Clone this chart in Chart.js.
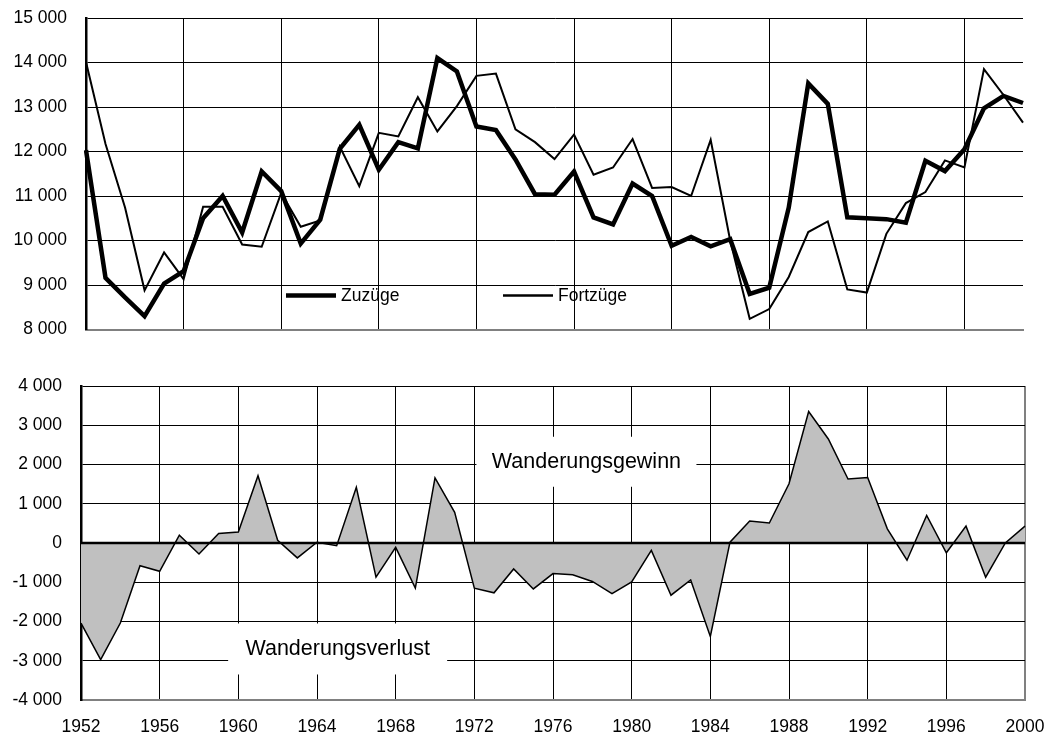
<!DOCTYPE html>
<html>
<head>
<meta charset="utf-8">
<script src="https://cdn.jsdelivr.net/npm/chart.js@4"></script>
<style>
html,body{margin:0;padding:0;background:#fff;width:1047px;height:737px;overflow:hidden}
canvas{position:absolute;left:0}
#top{top:0}
#bot{top:360px}
</style>
</head>
<body>
<canvas id="top" width="1047" height="340"></canvas>
<canvas id="bot" width="1047" height="377"></canvas>
<script>
const years = ['1952','1953','1954','1955','1956','1957','1958','1959','1960','1961','1962','1963','1964','1965','1966','1967','1968','1969','1970','1971','1972','1973','1974','1975','1976','1977','1978','1979','1980','1981','1982','1983','1984','1985','1986','1987','1988','1989','1990','1991','1992','1993','1994','1995','1996','1997','1998','1999','2000'];

const zuzuege = [12030,9160,8720,8300,9030,9310,10500,11000,10180,11550,11110,9930,10470,12060,12600,11590,12210,12070,14100,13800,12560,12480,11820,11040,11030,11550,10520,10360,11280,11000,9880,10080,9870,10030,8800,8940,10740,13530,13070,10520,10500,10480,10400,11790,11560,12050,12970,13250,13090];

const fortzuege = [14010,12170,10740,8880,9730,9130,10760,10760,9910,9860,11070,10310,10450,12110,11220,12420,12340,13220,12450,13020,13700,13750,12500,12210,11830,12380,11480,11640,12280,11180,11200,11000,12260,10000,8240,8460,9180,10190,10430,8900,8830,10150,10840,11090,11800,11640,13850,13270,12650];

const saldo = [-2040,-2970,-2040,-580,-720,200,-280,240,280,1715,70,-380,20,-70,1420,-870,-110,-1150,1660,780,-1150,-1270,-660,-1170,-780,-810,-980,-1290,-990,-190,-1330,-940,-2380,20,560,510,1510,3350,2650,1630,1670,360,-440,700,-250,430,-870,0,430];

const topYTicks = [8000,9000,10000,11000,12000,13000,14000,15000];
const botYTicks = [-4000,-3000,-2000,-1000,0,1000,2000,3000,4000];
const xTickLabels = ['1952','1956','1960','1964','1968','1972','1976','1980','1984','1988','1992','1996','2000'];

const seriesLabels = ['Zuzüge','Fortzüge'];
const noteGain = 'Wanderungsgewinn';
const noteLoss = 'Wanderungsverlust';

const FONT = "'Liberation Sans', Arial, sans-serif";
Chart.defaults.font.family = FONT;
Chart.defaults.font.size = 17.5;
Chart.defaults.color = '#000';

const fmt = v => (v < 0 ? '-' : '') + String(Math.abs(v)).replace(/\B(?=(\d{3})+(?!\d))/g, ' ');
const CLEAR = 'rgba(0,0,0,0)';

const innerLegend = {
  id: 'innerLegend',
  afterDraw(chart, args, opts) {
    const {ctx, chartArea: a} = chart;
    ctx.save();
    chart.data.datasets.forEach((ds, i) => {
      const x0 = a.left + opts.offsets[i];
      const y = a.bottom - opts.bottomGap;
      ctx.strokeStyle = ds.borderColor;
      ctx.lineWidth = opts.widths[i];
      ctx.lineCap = 'butt';
      ctx.beginPath();
      ctx.moveTo(x0, y);
      ctx.lineTo(x0 + opts.sample, y);
      ctx.stroke();
      ctx.fillStyle = '#000';
      ctx.font = '17.5px ' + FONT;
      ctx.textBaseline = 'middle';
      ctx.textAlign = 'left';
      ctx.fillText(ds.label, x0 + opts.sample + opts.gap, y + 1);
    });
    ctx.restore();
  }
};

const textBoxes = {
  id: 'textBoxes',
  beforeDatasetsDraw(chart, args, opts) {
    const {ctx} = chart;
    const xs = chart.scales.x, ys = chart.scales.y;
    ctx.save();
    opts.items.forEach(it => {
      const cx = xs.getPixelForValue(it.xIndex);
      const cy = ys.getPixelForValue(it.yValue);
      ctx.fillStyle = '#fff';
      ctx.fillRect(cx - it.w / 2, cy - it.h / 2, it.w, it.h);
      ctx.fillStyle = '#000';
      ctx.font = '21.5px ' + FONT;
      ctx.textAlign = 'center';
      ctx.textBaseline = 'middle';
      ctx.fillText(it.text, cx, cy);
    });
    ctx.restore();
  }
};

const zeroLine = {
  id: 'zeroLine',
  afterDatasetsDraw(chart) {
    const {ctx, chartArea: a} = chart;
    const y = chart.scales.y.getPixelForValue(0);
    ctx.save();
    ctx.strokeStyle = '#000';
    ctx.lineWidth = 2.5;
    ctx.beginPath();
    ctx.moveTo(a.left, y);
    ctx.lineTo(a.right, y);
    ctx.stroke();
    ctx.restore();
  }
};

new Chart(document.getElementById('top'), {
  type: 'line',
  data: {
    labels: years,
    datasets: [
      {label: seriesLabels[0], data: zuzuege, borderColor: '#000', borderWidth: 4.5, pointRadius: 0, tension: 0, fill: false},
      {label: seriesLabels[1], data: fortzuege, borderColor: '#000', borderWidth: 2, pointRadius: 0, tension: 0, fill: false}
    ]
  },
  options: {
    responsive: false,
    animation: false,
    devicePixelRatio: 1,
    layout: {padding: {left: 0, right: 24, top: 18, bottom: 3}},
    plugins: {
      legend: {display: false},
      tooltip: {enabled: false},
      innerLegend: {offsets: [200, 417], widths: [4.5, 2.5], bottomGap: 34, sample: 50, gap: 5}
    },
    scales: {
      x: {
        type: 'category',
        offset: false,
        ticks: {display: false, autoSkip: false},
        grid: {drawTicks: false, lineWidth: 1, color: c => (c.index > 0 && c.index % 5 === 0) ? '#000' : CLEAR},
        border: {display: true, color: '#808080', width: 2},
        afterFit: s => { s.height = 1; }
      },
      y: {
        min: 8000, max: 15000,
        afterBuildTicks: s => { s.ticks = topYTicks.map(v => ({value: v})); },
        ticks: {callback: v => fmt(v), padding: 0},
        grid: {drawTicks: true, tickLength: 19, tickColor: CLEAR, lineWidth: 1,
          color: c => (c.tick && c.tick.value === 8000) ? CLEAR : '#000'},
        border: {display: true, color: '#000', width: 2.5},
        afterFit: s => { s.width = 86; }
      }
    }
  },
  plugins: [innerLegend]
});

new Chart(document.getElementById('bot'), {
  type: 'line',
  data: {
    labels: years,
    datasets: [
      {label: 'Saldo', data: saldo, borderColor: '#000', borderWidth: 1.5, backgroundColor: '#C0C0C0', fill: 'origin', pointRadius: 0, tension: 0}
    ]
  },
  options: {
    responsive: false,
    animation: false,
    devicePixelRatio: 1,
    layout: {padding: {left: 0, right: 22, top: 26, bottom: 0}},
    plugins: {
      legend: {display: false},
      tooltip: {enabled: false},
      textBoxes: {items: [
        {text: noteGain, xIndex: 25.7, yValue: 2070, w: 220, h: 50},
        {text: noteLoss, xIndex: 13.05, yValue: -2700, w: 219, h: 51}
      ]}
    },
    scales: {
      x: {
        type: 'category',
        offset: false,
        ticks: {autoSkip: false, maxRotation: 0, minRotation: 0, padding: 0,
          callback: (v, i) => xTickLabels.includes(years[i]) ? years[i] : ''},
        grid: {drawTicks: true, tickLength: 17, tickColor: CLEAR,
          lineWidth: c => c.index === years.length - 1 ? 2 : 1,
          color: c => c.index === years.length - 1 ? '#808080' : ((c.index > 0 && c.index % 4 === 0) ? '#000' : CLEAR)},
        border: {display: true, color: '#808080', width: 2},
        afterFit: s => { s.height = 37; }
      },
      y: {
        min: -4000, max: 4000,
        afterBuildTicks: s => { s.ticks = botYTicks.map(v => ({value: v})); },
        ticks: {callback: v => fmt(v), padding: 0},
        grid: {drawTicks: true, tickLength: 19, tickColor: CLEAR, lineWidth: 1,
          color: c => (c.tick && c.tick.value === -4000) ? CLEAR : '#000'},
        border: {display: true, color: '#000', width: 2.5},
        afterFit: s => { s.width = 81; }
      }
    }
  },
  plugins: [textBoxes, zeroLine]
});
</script>
</body>
</html>
